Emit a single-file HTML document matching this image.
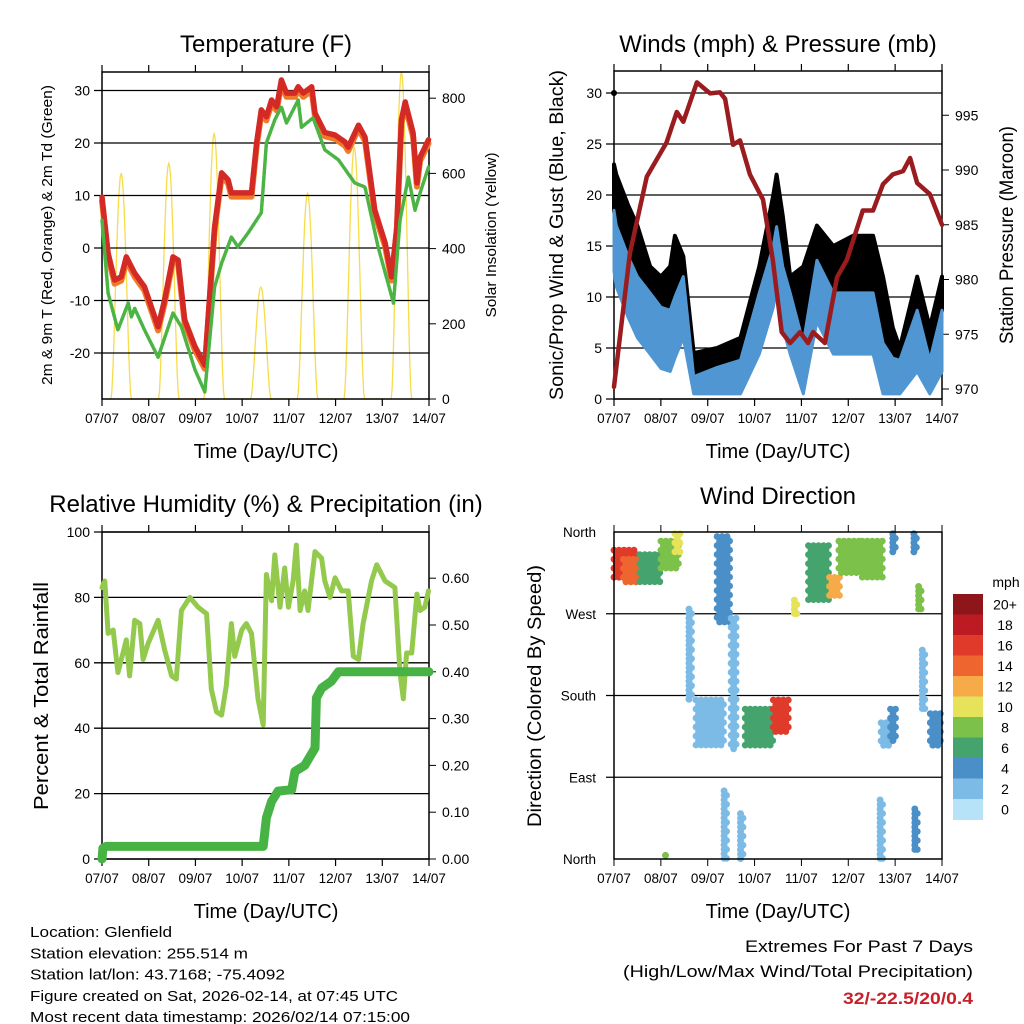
<!DOCTYPE html>
<html><head><meta charset="utf-8"><style>
html,body{margin:0;padding:0;background:#fff;}
svg{display:block;font-family:"Liberation Sans",Arial,sans-serif;}
</style></head><body>
<svg id="chart" width="1024" height="1024" viewBox="0 0 1024 1024" xmlns="http://www.w3.org/2000/svg">
<rect x="0" y="0" width="1024" height="1024" fill="#fff"/>
<g id="layer"></g>
</svg>
<script>
// ---- Temperature panel data ----
const tDays=[0,0.13,0.27,0.41,0.52,0.7,0.91,1.2,1.34,1.52,1.63,1.77,1.99,2.2,2.31,2.41,2.56,2.7,2.77,3.2,3.31,3.41,3.52,3.63,3.74,3.84,3.95,4.13,4.2,4.31,4.49,4.56,4.77,4.99,5.2,5.27,5.49,5.63,5.84,6.06,6.2,6.31,6.41,6.49,6.59,6.66,6.74,6.81,6.99];
const tempValues=[9.7,-1,-6.1,-5.5,-1.7,-4.8,-7.4,-15,-9.9,-1.7,-2.3,-13.7,-18.8,-22.3,-8.6,4,14.3,13,10.5,10.5,20,26.3,25,28.2,26.9,32,29.5,29.5,30.7,29.5,30.7,25.7,22,21.5,20.2,19.2,23.4,21.1,7.2,1,-5.5,4,24.4,27.8,24.4,21.9,12.4,17.3,20.6];
const tdDays=[0,0.13,0.34,0.56,0.63,0.7,0.91,1.2,1.52,1.7,1.99,2.2,2.41,2.56,2.77,2.91,3.13,3.41,3.52,3.7,3.84,3.95,4.2,4.27,4.52,4.77,5.06,5.41,5.63,5.91,6.24,6.38,6.56,6.7,6.81,6.99];
const dewValues=[5.3,-8.6,-15.6,-10.5,-13.1,-11.5,-15.6,-20.8,-12.4,-15,-23.2,-27.4,-7.4,-2.9,2.1,0.2,2.9,6.7,20,24.4,26.9,23.8,28.2,23,24.8,18.7,16.8,12.4,11.6,0.2,-10.5,5.3,13.5,7.2,10.5,15.4];
const solarPeakDays=[0.41,1.43,2.4,3.4,4.4,5.4,6.41];
const solarPeakValues=[600,628,707,298,548,670,870];
const tempTicks=[-20,-10,0,10,20,30];
const solarTicks=[0,200,400,600,800];
const dayLabels=["07/07","08/07","09/07","10/07","11/07","12/07","13/07","14/07"];
// ---- Wind panel data ----
const windDays=[0,0.05,0.3,0.5,0.77,1.0,1.2,1.3,1.48,1.7,2.2,2.7,3.1,3.4,3.47,3.6,3.76,4.04,4.33,4.68,5.1,5.53,5.74,5.95,6.1,6.47,6.74,7];
const windMean=[18.5,17,14,12,10.4,9,8.7,10,12,2.2,3.1,3.8,10.4,15,16.9,13,10.4,5.5,13.6,10.4,10.4,10.4,5.5,4,3.8,8.7,3.8,8.7];
const windGust=[23,22,19,17,13,12,13,16,14,4.5,5,6,13,20,22,18,12,13,17,15,16,16,12,7,5,12,7,12];
const pressDays=[0,0.34,0.7,1.12,1.34,1.48,1.77,2.05,2.26,2.37,2.54,2.69,2.9,3.18,3.39,3.58,3.76,3.97,4.14,4.25,4.5,4.76,4.97,5.31,5.53,5.74,5.95,6.17,6.32,6.47,6.74,7];
const pressValues=[970.2,982.4,989.4,992.5,995.3,994.4,998,997,997.1,996.5,992.3,992.7,989.6,987.3,981.8,975.2,974.2,975.2,974.2,975.2,974.2,980.2,981.8,986.3,986.3,988.7,989.6,989.9,991.1,988.8,987.8,985];
const windTicks=[0,5,10,15,20,25,30];
const pressTicks=[970,975,980,985,990,995];
// ---- RH panel data ----
const rhDays=[0,0.06,0.13,0.24,0.34,0.45,0.52,0.59,0.7,0.81,0.88,0.99,1.2,1.34,1.49,1.59,1.7,1.88,2.06,2.24,2.34,2.45,2.56,2.66,2.77,2.84,2.99,3.09,3.2,3.34,3.45,3.52,3.63,3.7,3.81,3.91,3.99,4.09,4.16,4.24,4.34,4.41,4.56,4.7,4.77,4.88,4.99,5.13,5.27,5.38,5.49,5.59,5.77,5.88,6.06,6.27,6.38,6.45,6.52,6.63,6.74,6.81,6.91,6.99];
const rhValues=[83,85,69,70,57,63,67,56,73,72,61,66,73,64,56,55,76,80,77,75,52,45,44,53,72,62,70,72,69,49,41,87,79,93,77,89,77,85,96,76,82,76,94,92,85,80,86,82,82,62,61,72,85,90,85,83,57,49,63,63,81,76,77,82];
const precipDays=[0,0.02,0.09,3.45,3.52,3.63,3.77,4.06,4.13,4.34,4.56,4.59,4.7,4.91,5.06,7];
const precipValues=[0,0.023,0.027,0.027,0.088,0.123,0.145,0.148,0.187,0.2,0.237,0.344,0.365,0.38,0.4,0.4];
const rhTicks=[0,20,40,60,80,100];
const precipTicks=[0,0.1,0.2,0.3,0.4,0.5,0.6];
// ---- Wind direction scatter data: [dayStart, dayEnd, dirLow, dirHigh, speed] ----
const dirDayStart=[0,0.2,0.55,1.0,1.3,1.6,1.75,2.2,2.5,2.8,3.4,3.85,4.15,4.6,4.8,5.3,5.7,5.9,5.95,6.4,6.5,6.58,6.75,2.35,2.7,5.68,6.42,1.1];
const dirDayEnd=[0.5,0.55,1.0,1.4,1.45,1.7,2.35,2.5,2.62,3.4,3.75,3.95,4.6,4.85,5.3,5.75,5.95,6.05,6.05,6.47,6.6,6.65,7.0,2.42,2.78,5.75,6.48,1.15];
const dirLow=[310,305,305,320,335,175,125,260,120,125,140,270,285,290,315,310,125,130,335,335,275,165,125,0,0,0,10,0];
const dirHigh=[340,330,335,350,358,275,175,355,265,165,175,285,345,310,350,350,150,165,358,358,300,230,160,75,50,65,55,4];
const dirSpeed=[16,14,7,9,10,2,2,4,2,7,16,11,7,12,9,9,2,4,4,4,8,2,5,2,2,3,4,8];
const speedBins=[0,2,4,6,8,10,12,14,16,18,20];
const speedLabels=["0","2","4","6","8","10","12","14","16","18","20+"];
const speedColors=["#b6e3f8","#7cbbe6","#4a8fc7","#45a46e","#7bc14a","#e6e25a","#f6ab48","#ef6530","#df3a2a","#bd1b24","#8e161b"];
const dirNames=["North","East","South","West","North"];
const dirTickValues=[0,90,180,270,360];

const NS="http://www.w3.org/2000/svg";
const layer=document.getElementById('layer');
function mk(tag,parent){const e=document.createElementNS(NS,tag);(parent||layer).appendChild(e);return e;}
function txt(s,x,y,size,anchor,parent){const e=mk('text',parent);e.setAttribute('x',x);e.setAttribute('y',y);e.setAttribute('font-size',size);e.setAttribute('text-anchor',anchor||'middle');e.textContent=s;return e;}

function panel(P,name){
  const g=mk('g');
  
  
  P.g=g; P.dx=d=>P.x0+d*(P.x1-P.x0)/7;
  return g;
}
function frame(P,leftTicks,leftY,leftFmt,rightTicks,rightY,rightFmt,grid){
  const g=P.g;
  if(grid){leftTicks.forEach(v=>{const l=mk('line',g);l.setAttribute('x1',P.x0-8);l.setAttribute('x2',P.x1);l.setAttribute('y1',leftY(v));l.setAttribute('y2',leftY(v));l.setAttribute('stroke','#000');l.setAttribute('stroke-width','1.3');
    
    });}
  const r=mk('rect',g);r.setAttribute('x',P.x0);r.setAttribute('y',P.y0);r.setAttribute('width',P.x1-P.x0);r.setAttribute('height',P.y1-P.y0);r.setAttribute('fill','none');r.setAttribute('stroke','#000');r.setAttribute('stroke-width','1.5');
  
  
  for(let d=0;d<=7;d++){const x=P.dx(d);
    [[P.y1,P.y1+7],[P.y0-7,P.y0]].forEach(([a,b])=>{const l=mk('line',g);l.setAttribute('x1',x);l.setAttribute('x2',x);l.setAttribute('y1',a);l.setAttribute('y2',b);l.setAttribute('stroke','#000');l.setAttribute('stroke-width','1.2');});
    const t=txt(dayLabels[d],x,P.y1+24,13.5,'middle',g);
    
    
  }
  leftTicks.forEach(v=>{const y=leftY(v);const t=txt(leftFmt(v),P.x0-12,y+5,14,'end',g);
    
    });
  if(rightTicks){rightTicks.forEach(v=>{const y=rightY(v);const l=mk('line',g);l.setAttribute('x1',P.x1);l.setAttribute('x2',P.x1+7);l.setAttribute('y1',y);l.setAttribute('y2',y);l.setAttribute('stroke','#000');
    const t=txt(rightFmt(v),P.x1+13,y+5,14,'start',g);
    
    });}
}
function poly(P,days,vals,yf,color,w,name,dash){
  const p=mk('polyline',P.g);
  p.setAttribute('points',days.map((d,i)=>P.dx(d).toFixed(1)+','+yf(vals[i]).toFixed(1)).join(' '));
  p.setAttribute('fill','none');p.setAttribute('stroke',color);p.setAttribute('stroke-width',w);p.setAttribute('stroke-linejoin','round');p.setAttribute('stroke-linecap','round');
  if(dash)p.setAttribute('stroke-dasharray',dash);
  
  
  return p;
}
function title(s,x,y,name){const t=txt(s,x,y,24,'middle');
  
  return t;}
function vlabel(s,x,y,size,name,len){const t=txt(s,0,0,size,'middle');t.setAttribute('transform','translate('+x+','+y+') rotate(-90)');if(len){t.setAttribute('textLength',len);t.setAttribute('lengthAdjust','spacingAndGlyphs');}
  
  return t;}

// ===== Panel 1: Temperature =====
const P1={x0:102,x1:429,y0:72,y1:399};panel(P1,'temperature-panel');
const tY=v=>248-v*5.25, sY=v=>399-v*0.376;
{const pts=[];for(let k=0;k<solarPeakDays.length;k++){const c=solarPeakDays[k],pk=solarPeakValues[k];
  for(let s=-0.22;s<=0.2201;s+=0.02){const f=Math.max(0,1-Math.pow(s/0.22,2));pts.push([c+s,pk*f*f]);}}
 poly(P1,pts.map(p=>p[0]),pts.map(p=>p[1]),sY,'#f7dc4a',1.3,'solar-insolation-line');}
frame(P1,tempTicks,tY,v=>String(v),solarTicks,sY,v=>String(v),true);
poly(P1,tDays,tempValues.map(v=>v-0.7),tY,'#f07a2a',6,'temp-9m-line');
poly(P1,tDays,tempValues,tY,'#d42a25',5.5,'temp-2m-line');
poly(P1,tdDays,dewValues,tY,'#4bb445',3.5,'dewpoint-line','3 1.5');
title('Temperature (F)',266,52,'temperature-title');
vlabel('2m & 9m T (Red, Orange) & 2m Td (Green)',52,235,15,'temp-y-axis-title',300);
vlabel('Solar Insolation (Yellow)',496,235,15,'solar-y-axis-title',165);
{const t=txt('Time (Day/UTC)',266,458,20,'middle');}

// ===== Panel 2: Winds =====
const P2={x0:614,x1:942,y0:71,y1:399};panel(P2,'winds-panel');
const wY=v=>399-v*10.2, pY=v=>389-(v-970)*10.95;
frame(P2,windTicks,wY,v=>String(v),pressTicks,pY,v=>String(v),true);
{const top=windDays.map((d,i)=>P2.dx(d).toFixed(1)+','+wY(windGust[i]).toFixed(1));
 const bot=windDays.map((d,i)=>P2.dx(d).toFixed(1)+','+wY(windMean[i]).toFixed(1)).reverse();
 const pg=mk('polygon',P2.g);pg.setAttribute('points',top.concat(bot).join(' '));pg.setAttribute('fill','#000');pg.setAttribute('stroke','#000');pg.setAttribute('stroke-width','4');pg.setAttribute('stroke-linejoin','round');
 
 
 const t2=windDays.map((d,i)=>P2.dx(d).toFixed(1)+','+wY(windMean[i]).toFixed(1));
 const b2=windDays.map((d,i)=>P2.dx(d).toFixed(1)+','+wY(Math.max(0.5,windMean[i]-6)).toFixed(1)).reverse();
 const pb=mk('polygon',P2.g);pb.setAttribute('points',t2.concat(b2).join(' '));pb.setAttribute('fill','#4f96d2');pb.setAttribute('stroke','#4f96d2');pb.setAttribute('stroke-width','3');pb.setAttribute('stroke-linejoin','round');
 
 
 const c=mk('circle',P2.g);c.setAttribute('cx',P2.dx(0));c.setAttribute('cy',wY(30));c.setAttribute('r',3);
 
 }
poly(P2,pressDays,pressValues,pY,'#9b1c1f',4.5,'pressure-line');
title('Winds (mph) & Pressure (mb)',778,52,'winds-title');
vlabel('Sonic/Prop Wind & Gust (Blue, Black)',563,235,19,'wind-y-axis-title',330);
vlabel('Station Pressure (Maroon)',1013,235,19,'pressure-y-axis-title',218);
{const t=txt('Time (Day/UTC)',778,458,20,'middle');}

// ===== Panel 3: RH & Precip =====
const P3={x0:102,x1:429,y0:532,y1:859};panel(P3,'humidity-panel');
const rY=v=>859-v*3.27, prY=v=>859-v*468;
frame(P3,rhTicks,rY,v=>String(v),precipTicks,prY,v=>v.toFixed(2),true);
poly(P3,rhDays,rhValues,rY,'#93c94d',5,'relative-humidity-line');
poly(P3,precipDays,precipValues,prY,'#48b345',9,'precipitation-line');
title('Relative Humidity (%) & Precipitation (in)',266,512,'humidity-title');
vlabel('Percent & Total Rainfall',48,696,20,'rh-y-axis-title',228);
{const t=txt('Time (Day/UTC)',266,918,20,'middle');}

// ===== Panel 4: Wind Direction =====
const P4={x0:614,x1:942,y0:532,y1:859};panel(P4,'wind-direction-panel');
const dY=v=>859-v*(327/360);
{const g=P4.g;[90,180,270].forEach(v=>{const l=mk('line',g);l.setAttribute('x1',P4.x0-8);l.setAttribute('x2',P4.x1);l.setAttribute('y1',dY(v));l.setAttribute('y2',dY(v));l.setAttribute('stroke','#000');l.setAttribute('stroke-width','1.3');
  
  });}
function binColor(s){let k=0;for(let i=0;i<speedBins.length;i++){if(s>=speedBins[i])k=i;}return speedColors[k];}
for(let i=0;i<dirDayStart.length;i++){
  const x=P4.dx(dirDayStart[i]),x2=P4.dx(dirDayEnd[i]),y=dY(dirHigh[i]),y2=dY(dirLow[i]);
  const cg=mk('g',P4.g);
  
  
  const col=binColor(dirSpeed[i]);
  let row=0;
  for(let yy=y;yy<=y2+0.01;yy+=4.5,row++){
    for(let xx=x+(row%2?2.5:0);xx<=x2+0.01;xx+=5){
      const c=mk('circle',cg);c.setAttribute('cx',xx.toFixed(1));c.setAttribute('cy',yy.toFixed(1));c.setAttribute('r',3.4);c.setAttribute('fill',col);
    }
    if(x2-x<5){const c=mk('circle',cg);c.setAttribute('cx',x.toFixed(1));c.setAttribute('cy',yy.toFixed(1));c.setAttribute('r',3.4);c.setAttribute('fill',col);}
  }
}
{const g=P4.g;const r=mk('rect',g);r.setAttribute('x',P4.x0);r.setAttribute('y',P4.y0);r.setAttribute('width',P4.x1-P4.x0);r.setAttribute('height',P4.y1-P4.y0);r.setAttribute('fill','none');r.setAttribute('stroke','#000');r.setAttribute('stroke-width','1.5');
 for(let d=0;d<=7;d++){const x=P4.dx(d);[[P4.y1,P4.y1+7],[P4.y0-7,P4.y0]].forEach(([a,b])=>{const l=mk('line',g);l.setAttribute('x1',x);l.setAttribute('x2',x);l.setAttribute('y1',a);l.setAttribute('y2',b);l.setAttribute('stroke','#000');});
  const t=txt(dayLabels[d],x,P4.y1+24,13.5,'middle',g);
  
  }
 dirTickValues.forEach((v,i)=>{const t=txt(dirNames[i],P4.x0-18,dY(v)+5,13.5,'end',g);
  
  });}
{const cb=mk('g');
 
 
 const top=594,h=20.5;
 for(let i=0;i<speedColors.length;i++){const k=speedColors.length-1-i;const r=mk('rect',cb);r.setAttribute('x',953);r.setAttribute('y',top+i*h);r.setAttribute('width',30);r.setAttribute('height',h+0.5);r.setAttribute('fill',speedColors[k]);
  
  
  const t=txt(speedLabels[k],1005,top+i*h+h/2+5,14,'middle',cb);
  
  }
 const u=txt('mph',1006,587,14,'middle',cb);
 
 }
title('Wind Direction',778,504,'wind-direction-title');
vlabel('Direction (Colored By Speed)',541,696,19,'direction-y-axis-title',262);
{const t=txt('Time (Day/UTC)',778,918,20,'middle');}

const info=["Location: Glenfield","Station elevation: 255.514 m","Station lat/lon: 43.7168; -75.4092","Figure created on Sat, 2026-02-14, at 07:45 UTC","Most recent data timestamp: 2026/02/14 07:15:00"];
const infoLen=[142,218,255,368,380];
info.forEach((s,i)=>{const t=txt(s,30,937+i*21.3,15,'start');t.setAttribute('textLength',infoLen[i]);t.setAttribute('lengthAdjust','spacingAndGlyphs');
  
  });
{const a=txt('Extremes For Past 7 Days',973,952,17,'end');a.setAttribute('textLength',228);a.setAttribute('lengthAdjust','spacingAndGlyphs');
 
 
 const b=txt('(High/Low/Max Wind/Total Precipitation)',973,977,17,'end');b.setAttribute('textLength',350);b.setAttribute('lengthAdjust','spacingAndGlyphs');
 
 
 const c=txt('32/-22.5/20/0.4',973,1004,17,'end');c.setAttribute('fill','#c8202a');c.setAttribute('font-weight','bold');c.setAttribute('textLength',130);c.setAttribute('lengthAdjust','spacingAndGlyphs');
 
 }
</script>
</body></html>
